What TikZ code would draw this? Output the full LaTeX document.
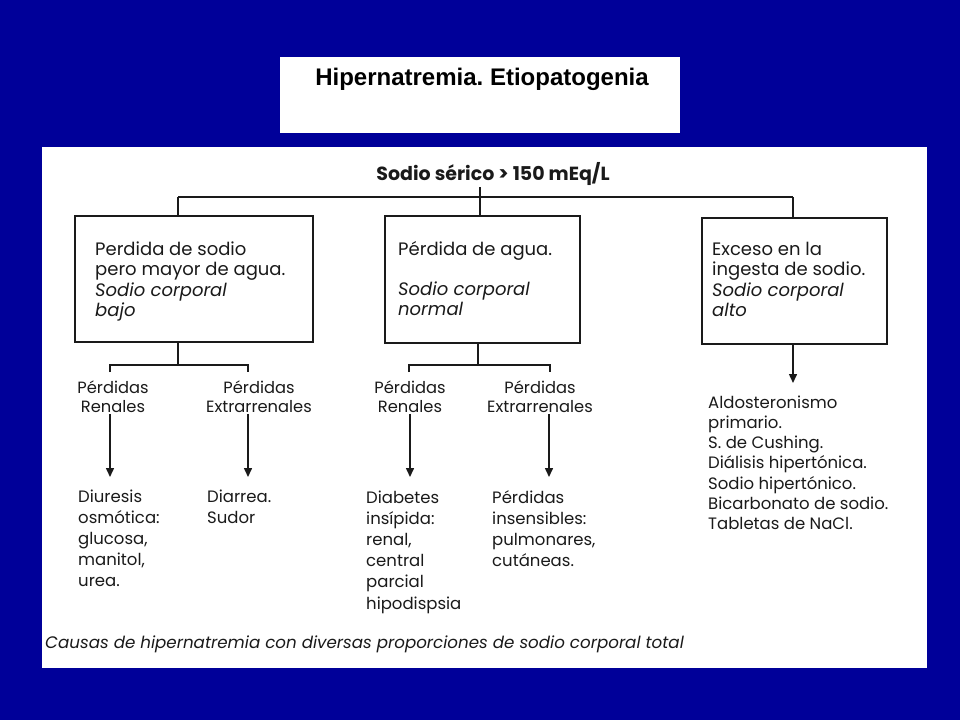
\documentclass[tikz,border=0pt]{standalone}
\usepackage{fontspec}
\setmainfont{Liberation Sans}
\newfontfamily\gfont{Poppins}
\usetikzlibrary{arrows.meta}
\definecolor{bgblue}{HTML}{000099}
\definecolor{ink}{HTML}{1A1A1A}
\frenchspacing
\begin{document}
\begin{tikzpicture}[x=1pt,y=-1pt,
  txt/.style={font=\gfont\fontsize{18}{20.5}\selectfont, inner sep=0pt, align=left, text=ink, anchor=base west},
  itx/.style={txt, font=\gfont\itshape\fontsize{18}{20.5}\selectfont},
  lab/.style={font=\gfont\fontsize{16.3}{19.5}\selectfont, inner sep=1pt, align=center, text=ink, anchor=base},
  res/.style={font=\gfont\fontsize{16.5}{21.2}\selectfont, inner sep=0pt, align=left, text=ink, anchor=base west},
  boxst/.style={draw=ink, line width=1.4pt, fill=white, inner sep=0pt},
  ln/.style={draw=ink, line width=1.5pt},
  arr/.style={ln, -{Triangle[width=8pt,length=9pt]}}
]
\fill[bgblue] (0,0) rectangle (960,720);
\useasboundingbox (0,0) rectangle (960,720);
% title
\node[fill=white, minimum width=400, minimum height=76, anchor=north west, inner sep=0pt] (tbox) at (280,57) {};
\node[font=\bfseries\fontsize{24}{28}\selectfont, anchor=base, inner sep=0pt] (title) at (482,85) {Hipernatremia. Etiopatogenia};
% panel
\node[fill=white, minimum width=885, minimum height=521, anchor=north west, inner sep=0pt] (panel) at (42,147) {};
% header
\node[font=\gfont\bfseries\fontsize{19}{22}\selectfont, anchor=base, inner sep=2pt, text=ink] (hd) at (493,180) {Sodio sérico > 150 mEq/L};
% boxes
\node[boxst, minimum width=238, minimum height=126] (b1) at (194,279) {};
\node[boxst, minimum width=195, minimum height=127] (b2) at (482.5,279.5) {};
\node[boxst, minimum width=185, minimum height=126] (b3) at (794.5,281) {};
\node[txt] (b1a) at (95,275.5) {Perdida de sodio\\pero mayor de agua.};
\node[itx] (b1b) at (95,316.5) {Sodio corporal\\bajo};
\node[txt] (b2a) at (398,255) {Pérdida de agua.};
\node[itx] (b2b) at (398,315.5) {Sodio corporal\\normal};
\node[txt] (b3a) at (712,275.5) {Exceso en la\\ingesta de sodio.};
\node[itx] (b3b) at (712,316.5) {Sodio corporal\\alto};
% top connectors
\coordinate (t1) at (178,197);
\coordinate (t2) at (480,197);
\coordinate (t3) at (793,197);
\draw[ln] (t1) -- (t3);
\draw[ln] (t1) -- (t1 |- b1.north);
\draw[ln] (t3) -- (t3 |- b3.north);
\draw[ln] (t2 |- hd.south) -- (t2 |- b2.north);
% sub-labels
\node[lab] (l1) at (113,412.5) {Pérdidas\\Renales};
\node[lab] (l2) at (259,412.5) {Pérdidas\\Extrarrenales};
\node[lab] (l3) at (410,412.5) {Pérdidas\\Renales};
\node[lab] (l4) at (540,412.5) {Pérdidas\\Extrarrenales};
% sub connectors
\coordinate (s1) at (178,365);
\coordinate (s1l) at (110,365);
\coordinate (s1r) at (248,365);
\coordinate (s2) at (478,365);
\coordinate (s2l) at (409,365);
\coordinate (s2r) at (550,365);
\draw[ln] (s1 |- b1.south) -- (s1);
\draw[ln] (s1l) ++(0,7) -- (s1l) -- (s1r) -- ++(0,7);
\draw[ln] (s2 |- b2.south) -- (s2);
\draw[ln] (s2l) ++(0,7) -- (s2l) -- (s2r) -- ++(0,7);
% arrows
\coordinate (a1) at (110,477);
\coordinate (a2) at (248,477);
\coordinate (a3) at (410,477);
\coordinate (a4) at (549,477);
\coordinate (a5) at (793,383);
\draw[arr] (a1 |- l1.south) -- (a1);
\draw[arr] (a2 |- l2.south) -- (a2);
\draw[arr] (a3 |- l3.south) -- (a3);
\draw[arr] (a4 |- l4.south) -- (a4);
\draw[arr] (a5 |- b3.south) -- (a5);
% results
\node[res] (r1) at (78,586.8) {Diuresis\\osmótica:\\glucosa,\\manitol,\\urea.};
\node[res] (r2) at (207,523.2) {Diarrea.\\Sudor};
\node[res] (r3) at (366,609) {Diabetes\\insípida:\\renal,\\central\\parcial\\hipodispsia};
\node[res] (r4) at (492,566.6) {Pérdidas\\insensibles:\\pulmonares,\\cutáneas.};
\node[font=\gfont\fontsize{16.5}{20.3}\selectfont, inner sep=0pt, align=left, text=ink, anchor=base west] (r5) at (708,529.8) {Aldosteronismo\\primario.\\S. de Cushing.\\Diálisis hipertónica.\\Sodio hipertónico.\\Bicarbonato de sodio.\\Tabletas de NaCl.};
% caption
\node[font=\gfont\itshape\fontsize{16.7}{18}\selectfont, inner sep=0pt, anchor=base west, text=ink] (cap) at (45,648) {Causas de hipernatremia con diversas proporciones de sodio corporal total};
\end{tikzpicture}
\end{document}
